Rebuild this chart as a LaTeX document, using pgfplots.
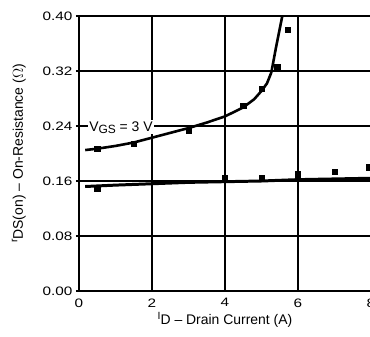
\documentclass[border=0pt]{standalone}
\usepackage{pgfplots}
\pgfplotsset{compat=1.18}
\usepackage{fontspec}
\setmainfont{Liberation Sans}
\newfontfamily\tickfont[FakeStretch=1.25]{Liberation Sans}
\newcommand{\sub}[1]{\raisebox{-0.3ex}{\fontsize{12}{13}\selectfont #1}}
\newcommand{\pre}[1]{\raisebox{0.4em}{\fontsize{10.5}{11}\selectfont #1}}
\begin{document}
\begin{tikzpicture}
\useasboundingbox (-79bp,-46bp) rectangle (291bp,291bp);
\clip (-79bp,-46bp) rectangle (291bp,291bp);
\begin{axis}[
  scale only axis,
  width=292bp, height=275bp,
  xmin=0, xmax=8, ymin=0, ymax=0.40,
  xtick={0,2,4,6,8},
  ytick={0,0.08,0.16,0.24,0.32,0.40},
  grid=major,
  grid style={black, line width=2bp},
  axis line style={black, line width=2bp},
  tick style={black, line width=2bp},
  tick align=outside,
  major tick length=3bp,
  xtick style={draw=none},
  /pgf/number format/assume math mode=true,
  yticklabel style={/pgf/number format/.cd, fixed, fixed zerofill, precision=2},
  ticklabel style={font=\tickfont\fontsize{12.3}{14}\selectfont},
  xticklabel style={yshift=-1pt},
  xlabel={\pre{I}D -- Drain Current (A)},
  ylabel={\pre{r}DS(on) -- On-Resistance ($\Omega$)},
  label style={font=\fontsize{14}{16}\selectfont},
  xlabel style={yshift=2pt},
  ylabel style={yshift=10pt},
  clip=true,
]
% V_GS = 3 V (upper curve)
\addplot[black, line width=2.6pt, line join=round] coordinates {
  (0.17,0.205) (0.5,0.207) (1,0.211) (1.5,0.216) (2,0.223) (2.5,0.230)
  (3,0.237) (3.5,0.245) (4,0.254) (4.5,0.267) (4.8,0.279) (5.0,0.291)
  (5.15,0.302) (5.27,0.318) (5.4,0.355) (5.57,0.40) (5.6,0.41)
};
\addplot[only marks, mark=square*, mark size=2.6pt, black] coordinates {
  (0.5,0.207) (1.5,0.214) (3,0.233) (4.5,0.270) (5.0,0.294) (5.43,0.326) (5.71,0.380)
};
% lower curve
\addplot[black, line width=3pt] coordinates {
  (0.17,0.152) (1,0.154) (2,0.156) (3,0.158) (4,0.159) (5,0.160) (6,0.162) (7,0.163) (8,0.164)
};
\addplot[only marks, mark=square*, mark size=2.6pt, black] coordinates {
  (0.5,0.149) (4,0.164) (5,0.165) (6,0.170) (7,0.174) (7.95,0.180)
};
\node[fill=white, inner sep=1pt, font=\fontsize{14}{15}\selectfont] at (axis cs:1.15,0.238) {V\sub{GS} = 3 V};
\end{axis}
\end{tikzpicture}
\end{document}
